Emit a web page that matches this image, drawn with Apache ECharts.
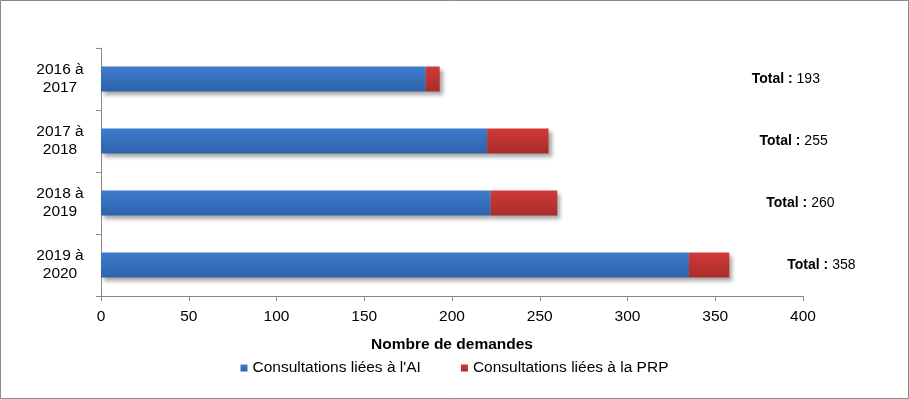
<!DOCTYPE html>
<html>
<head>
<meta charset="utf-8">
<script src="https://cdn.jsdelivr.net/npm/echarts@6/dist/echarts.min.js"></script>
<style>
	html, body { margin: 0; padding: 0; background: #fff; }
	#chart { width: 909px; height: 399px; }
</style>
</head>
<body>
<div id="chart"></div>
<script>
var periodes = ['2016 à\n2017', '2017 à\n2018', '2018 à\n2019', '2019 à\n2020'];
var consultationsAI = [185, 220, 222, 335];
var consultationsPRP = [8, 35, 38, 23];
var totaux = [193, 255, 260, 358];
var xTicks = [0, 50, 100, 150, 200, 250, 300, 350, 400];

// label placement for the totals (px right of the bar end)
var totalOffsets = [307, 206, 204, 53];

var chart = echarts.init(document.getElementById('chart'));

function barStyle(top, bottom) {
	return {
		color: new echarts.graphic.LinearGradient(0, 0, 0, 1, [
			{ offset: 0, color: top },
			{ offset: 1, color: bottom }
		]),
		shadowColor: 'rgba(0,0,0,0.35)',
		shadowBlur: 4,
		shadowOffsetX: 3,
		shadowOffsetY: 3
	};
}

var option = {
	animation: false,
	textStyle: { fontFamily: 'Liberation Sans, Arial, sans-serif' },
	graphic: [{
		type: 'rect',
		shape: { x: 0.5, y: 0.5, width: 908, height: 398 },
		style: { fill: 'none', stroke: '#8a8a8a', lineWidth: 1 }
	}],
	grid: { left: 101, right: 106, top: 48, bottom: 103 },
	legend: {
		bottom: 18,
		left: 'center',
		itemWidth: 7,
		itemHeight: 7,
		itemGap: 40,
		icon: 'rect',
		textStyle: { fontSize: 15.5, color: '#000', fontFamily: 'Liberation Sans, Arial, sans-serif' },
		data: ['Consultations liées à l\'AI', 'Consultations liées à la PRP']
	},
	xAxis: {
		type: 'value',
		min: 0,
		max: 400,
		interval: 50,
		name: 'Nombre de demandes',
		nameLocation: 'middle',
		nameGap: 41,
		nameTextStyle: { fontSize: 15.5, fontWeight: 'bold', color: '#000' },
		axisLine: { show: true, lineStyle: { color: '#8a8a8a', width: 1 } },
		axisTick: { show: true, length: 5, lineStyle: { color: '#8a8a8a' } },
		axisLabel: {
			fontSize: 15.5, color: '#000', margin: 13,
			formatter: function (v) { return xTicks.indexOf(v) >= 0 ? String(v) : ''; }
		},
		splitLine: { show: false }
	},
	yAxis: {
		type: 'category',
		inverse: true,
		data: periodes,
		axisLine: { show: true, lineStyle: { color: '#8a8a8a', width: 1 } },
		axisTick: { show: true, length: 5, lineStyle: { color: '#8a8a8a' } },
		axisLabel: { fontSize: 15.5, color: '#000', align: 'center', margin: 41, lineHeight: 18 }
	},
	series: [
		{
			name: 'Consultations liées à l\'AI',
			type: 'bar',
			stack: 'total',
			barWidth: 25,
			data: consultationsAI,
			itemStyle: barStyle('#3d7ccd', '#2f62ab')
		},
		{
			name: 'Consultations liées à la PRP',
			type: 'bar',
			stack: 'total',
			barWidth: 25,
			data: consultationsPRP,
			itemStyle: barStyle('#d13a38', '#a82c2b')
		},
		{
			name: 'Total',
			type: 'bar',
			barWidth: 25,
			barGap: '-100%',
			z: 1,
			silent: true,
			itemStyle: { color: 'rgba(0,0,0,0)' },
			data: totaux.map(function (v, i) {
				return {
					value: v,
					label: { offset: [totalOffsets[i], 0] }
				};
			}),
			label: {
				show: true,
				position: 'right',
				distance: 5,
				fontSize: 14,
				color: '#000',
				formatter: function (p) { return '{b|Total :} ' + p.value; },
				rich: { b: { fontWeight: 'bold', fontSize: 14, color: '#000' } }
			}
		}
	]
};

chart.setOption(option);
</script>
</body>
</html>
